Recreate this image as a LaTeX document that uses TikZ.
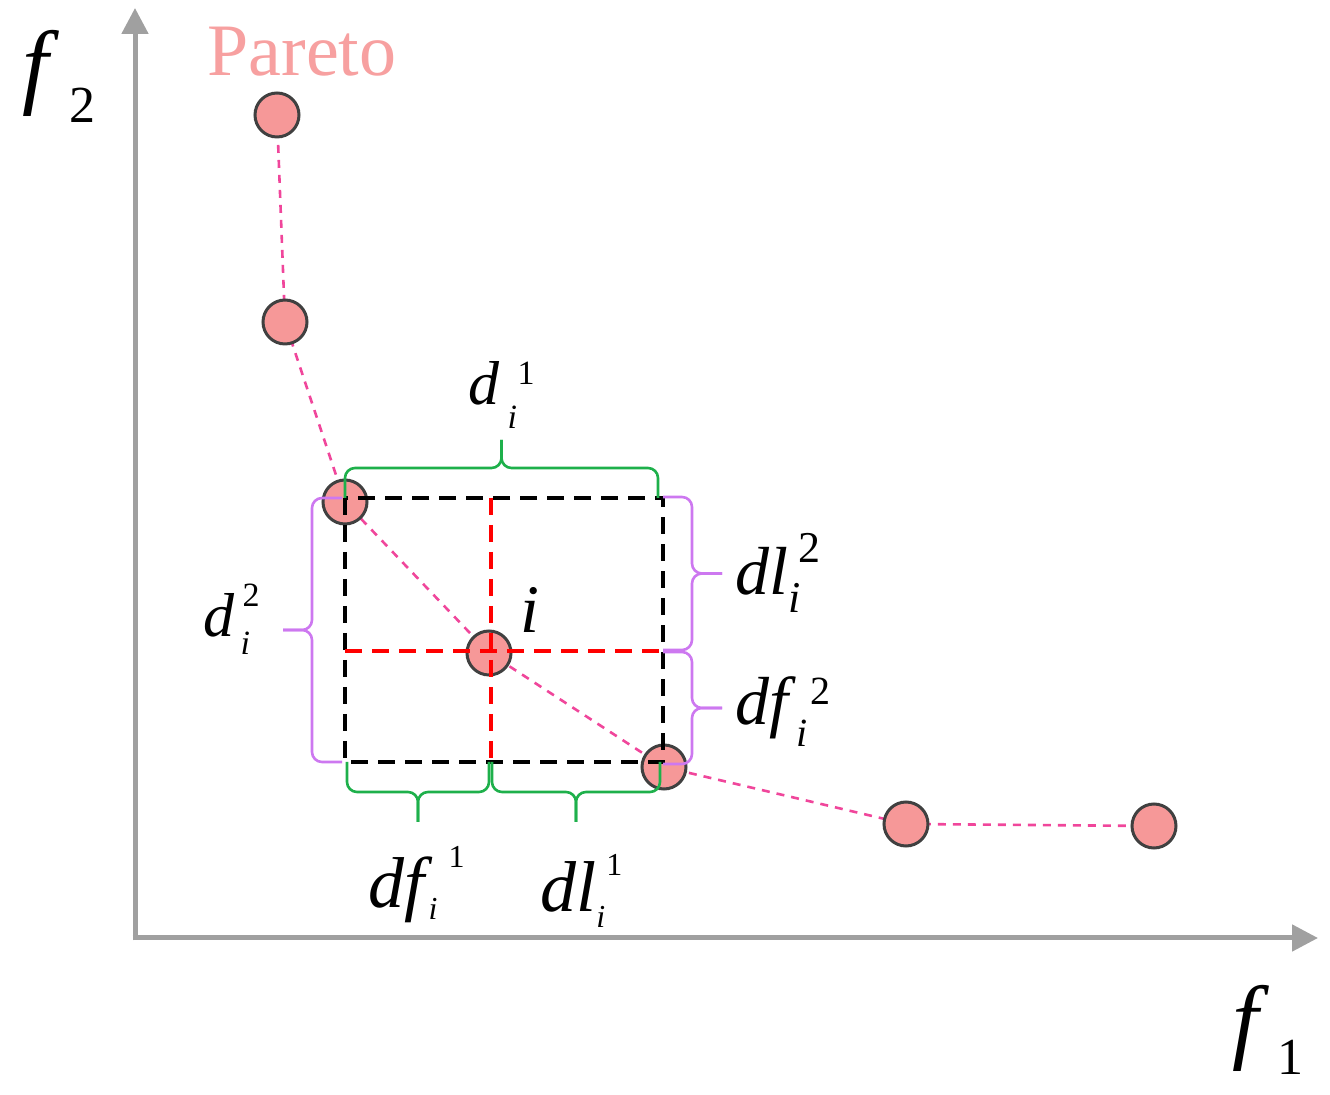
\documentclass[tikz,border=0pt]{standalone}
\usepackage{fontspec}
\setmainfont{Liberation Serif}
\usetikzlibrary{arrows.meta}
\definecolor{axisgray}{RGB}{160,160,160}
\definecolor{curvepink}{RGB}{240,70,155}
\definecolor{ptfill}{RGB}{246,152,152}
\definecolor{ptedge}{RGB}{64,64,64}
\definecolor{paretotext}{RGB}{247,160,160}
\definecolor{bracegreen}{RGB}{30,176,75}
\definecolor{bracepurple}{RGB}{205,120,240}
\tikzset{
  axis/.style={draw=axisgray, line width=2.5pt, -{Triangle[length=13pt,width=13pt]}},
  pareto/.style={draw=curvepink, line width=1.3pt, dash pattern=on 4pt off 3.5pt},
  pt/.style={circle, draw=ptedge, fill=ptfill, line width=1.5pt, minimum size=22pt, inner sep=0pt},
  boxline/.style={black, line width=2pt, dash pattern=on 8.5pt off 5pt},
  crossline/.style={red, line width=2pt, dash pattern=on 8.5pt off 5pt},
  gbrace/.style={draw=bracegreen, line width=1.3pt, rounded corners=5pt},
  pbrace/.style={draw=bracepurple, line width=1.3pt, rounded corners=5pt},
  lab/.style={inner sep=0pt, anchor=base west},
}
% braces: style, from, to, end, body, tip
\newcommand{\hbrace}[6]{%
  \draw[#1] (#2,#4) -- (#2,#5) -- ({(#2+#3)/2},#5) -- ({(#2+#3)/2},#6);
  \draw[#1] ({(#2+#3)/2},#6) -- ({(#2+#3)/2},#5) -- (#3,#5) -- (#3,#4);}
\newcommand{\vbrace}[6]{%
  \draw[#1] (#4,#2) -- (#5,#2) -- (#5,{(#2+#3)/2}) -- (#6,{(#2+#3)/2});
  \draw[#1] (#6,{(#2+#3)/2}) -- (#5,{(#2+#3)/2}) -- (#5,#3) -- (#4,#3);}
% label: base, sub, sup, sub kern, sub drop, sup kern, sup rise, script size
\newcommand{\dlab}[8]{\textit{#1}%
  \rlap{\kern#4\raisebox{-#5}{\fontsize{#8}{#8}\selectfont\textit{#2}}}%
  \kern#6\raisebox{#7}{\fontsize{#8}{#8}\selectfont #3}}
\begin{document}
\begin{tikzpicture}[x=0.5pt, y=-0.5pt]
  \useasboundingbox (0,0) rectangle (1330,1095);
  % Axes
  \coordinate (o) at (135,938);
  \coordinate (ytop) at (135,8);
  \coordinate (xend) at (1318,938);
  \draw[axis] ([yshift=-1.25pt]o) -- (ytop);
  \draw[axis] ([xshift=-1.25pt]o) -- (xend);
  % Pareto front
  \coordinate (p1) at (277,115);
  \coordinate (p2) at (285,322);
  \coordinate (p3) at (345,502);
  \coordinate (p4) at (489,653);
  \coordinate (p5) at (664,767);
  \coordinate (p6) at (906,824);
  \coordinate (p7) at (1154,826);
  \draw[pareto] (p1) -- (p2) -- (p3) -- (p4) -- (p5) -- (p6) -- (p7);
  \foreach \k in {1,...,7} {
    \node[pt] (n\k) at (p\k) {};
  }
  % Neighbourhood box of i
  \draw[boxline] (345,498) rectangle (663,762);
  \draw[crossline] (491,498) -- (491,762);
  \draw[crossline] (345,651) -- (663,651);
  % Braces
  \hbrace{gbrace}{345}{658}{498}{468}{440}
  \hbrace{gbrace}{347}{489}{762}{792}{822}
  \hbrace{gbrace}{492}{660}{762}{792}{822}
  \vbrace{pbrace}{498}{762}{342}{312}{283}
  \vbrace{pbrace}{497}{650}{663}{692}{722}
  \vbrace{pbrace}{652}{764}{663}{692}{722}
  % Labels
  \node[font=\fontsize{37}{37}\selectfont, text=paretotext, inner sep=0pt] (title) at (302,52) {Pareto};
  \node[lab, font=\fontsize{47}{47}\selectfont] (f2) at (22,97) {\textit{f}\kern5pt\raisebox{-13pt}{\fontsize{26}{26}\selectfont 2}};
  \node[lab, font=\fontsize{47}{47}\selectfont] (f1) at (1232,1052) {\textit{f}\kern4pt\raisebox{-11.5pt}{\fontsize{26}{26}\selectfont 1}};
  \node[lab, font=\fontsize{31}{31}\selectfont] (d1) at (468,405) {\dlab{d}{i}{1}{4pt}{12pt}{9pt}{10pt}{17pt}};
  \node[lab, font=\fontsize{31}{31}\selectfont] (d2) at (203,637) {\dlab{d}{i}{2}{3pt}{9pt}{4pt}{15pt}{17pt}};
  \node[lab, font=\fontsize{34}{34}\selectfont] (dl2) at (735,595) {\dlab{dl}{i}{2}{0pt}{9pt}{5pt}{16pt}{22pt}};
  \node[lab, font=\fontsize{34}{34}\selectfont] (df2) at (735,725) {\dlab{df}{i}{2}{0pt}{11pt}{7pt}{10pt}{20pt}};
  \node[lab, font=\fontsize{36}{36}\selectfont] (df1) at (368,908) {\dlab{df}{i}{1}{-2pt}{6pt}{8pt}{20pt}{16pt}};
  \node[lab, font=\fontsize{36}{36}\selectfont] (dl1) at (540,912) {\dlab{dl}{i}{1}{0pt}{8pt}{5pt}{18pt}{16pt}};
  \node[lab, font=\fontsize{34}{34}\selectfont] (il) at (520,633) {\textit{i}};
\end{tikzpicture}
\end{document}
